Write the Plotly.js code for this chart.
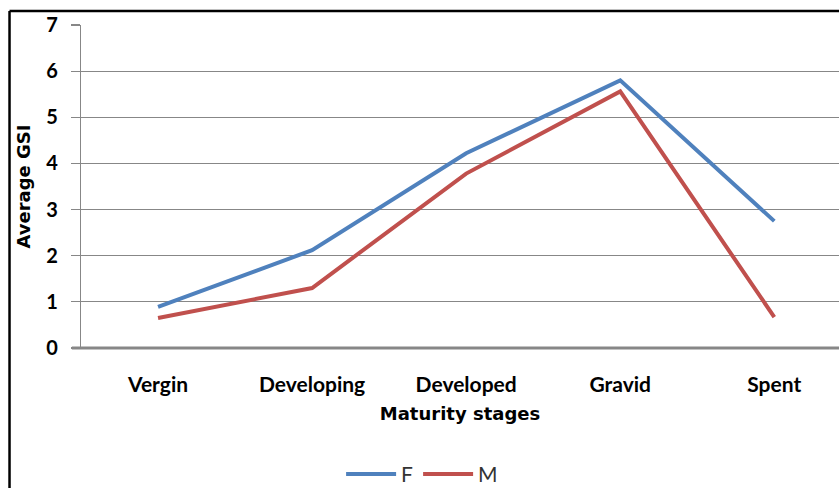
<!DOCTYPE html>
<html><head><meta charset="utf-8">
<script src="https://cdn.plot.ly/plotly-3.0.1.min.js"></script>
<style>html,body{margin:0;padding:0;background:#fff;}#chart{width:839px;height:488px;}</style>
</head><body><div id="chart"></div>
<script>
const stages = ["Vergin", "Developing", "Developed", "Gravid", "Spent"];
const femaleGSI = [0.89, 2.12, 4.22, 5.8, 2.75];
const maleGSI = [0.65, 1.3, 3.78, 5.56, 0.67];
const yTicks = [0, 1, 2, 3, 4, 5, 6, 7];

const fam = "Lato, 'Open Sans', sans-serif";
const titleFam = "'DejaVu Sans', sans-serif";

const traces = [
  {x: stages, y: femaleGSI, name: "F", type: "scatter", mode: "lines",
   line: {color: "#4F81BD", width: 4}},
  {x: stages, y: maleGSI, name: "M", type: "scatter", mode: "lines",
   line: {color: "#C0504D", width: 4}}
];

const layout = {
  width: 839, height: 488,
  margin: {l: 81, r: 0, t: 24.5, b: 140},
  paper_bgcolor: "#fff", plot_bgcolor: "#fff",
  font: {family: fam, size: 17, color: "#000"},
  showlegend: true,
  legend: {orientation: "h", x: 0.45, xanchor: "center", yref: "container", y: 0.028, yanchor: "middle",
           font: {family: fam, size: 21, color: "#333"}, itemwidth: 50, tracegroupgap: 0},
  xaxis: {
    type: "category", range: [-0.5, 4.42], automargin: false,
    showgrid: false, zeroline: false, showline: false,
    ticks: "", ticklabelstandoff: 22,
    tickfont: {family: fam, size: 21, color: "#000", weight: "bold"},
    title: {text: "Maturity stages", standoff: 12,
            font: {family: titleFam, size: 18, color: "#000", weight: "bold"}}
  },
  yaxis: {
    range: [0, 7], tickvals: yTicks, ticktext: yTicks.map(String), automargin: false,
    showgrid: true, gridcolor: "#878787", gridwidth: 1.2,
    zeroline: false, showline: true, linecolor: "#878787", linewidth: 1.2,
    ticks: "outside", ticklen: 9, tickcolor: "#878787", tickwidth: 1.2,
    ticklabelstandoff: 9,
    tickfont: {family: fam, size: 20, color: "#000", weight: "bold"},
    title: {text: "Average GSI", standoff: 10,
            font: {family: titleFam, size: 18, color: "#000", weight: "bold"}}
  },
  shapes: [
    {type: "line", xref: "paper", yref: "paper", x0: -0.012, x1: 1.01, y0: 0, y1: 0,
     line: {color: "#878787", width: 3}},
    {type: "line", xref: "paper", yref: "paper", x0: -0.0943, x1: -0.0943, y0: -0.45, y1: 1.0433,
     line: {color: "#000", width: 2.5}},
    {type: "line", xref: "paper", yref: "paper", x0: -0.0943, x1: 1.01, y0: 1.0433, y1: 1.0433,
     line: {color: "#000", width: 2.5}}
  ]
};

Plotly.newPlot("chart", traces, layout, {displayModeBar: false, staticPlot: true});
</script>
</body></html>
